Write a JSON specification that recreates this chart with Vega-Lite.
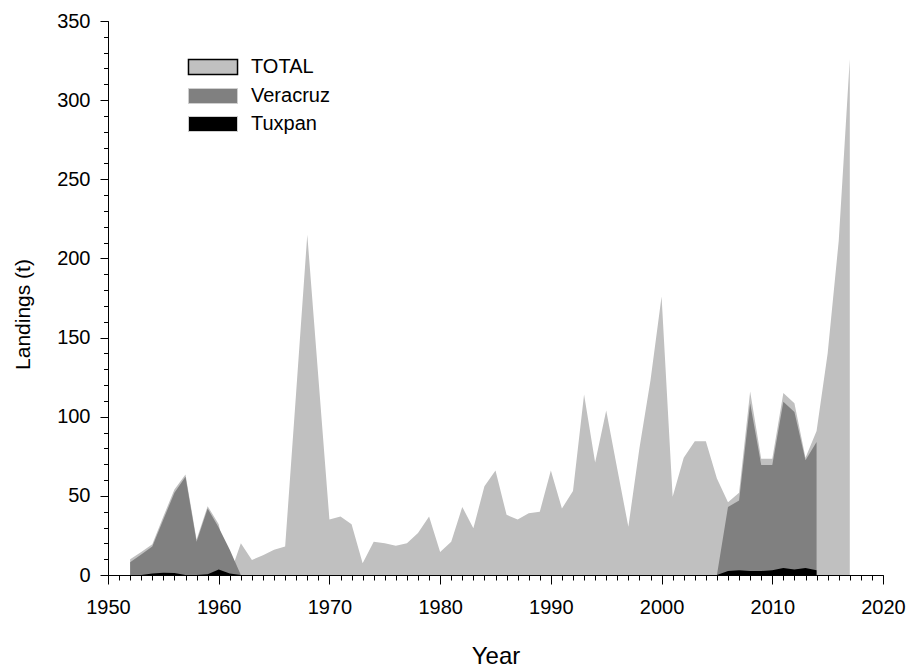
{
  "$schema": "https://vega.github.io/schema/vega-lite/v6.json",
  "width": 775,
  "height": 554,
  "autosize": "none",
  "padding": {"left": 108, "top": 21, "right": 24, "bottom": 94},
  "background": "white",
  "config": {"view": {"stroke": null}, "font": "Liberation Sans"},
  "datasets": {
    "total": [
      {"year": 1952, "series": "TOTAL", "value": 10},
      {"year": 1953, "series": "TOTAL", "value": 14.5},
      {"year": 1954, "series": "TOTAL", "value": 19.5},
      {"year": 1955, "series": "TOTAL", "value": 37},
      {"year": 1956, "series": "TOTAL", "value": 54},
      {"year": 1957, "series": "TOTAL", "value": 63.5},
      {"year": 1958, "series": "TOTAL", "value": 22.5},
      {"year": 1959, "series": "TOTAL", "value": 43.5},
      {"year": 1960, "series": "TOTAL", "value": 32},
      {"year": 1961, "series": "TOTAL", "value": 0},
      {"year": 1962, "series": "TOTAL", "value": 20},
      {"year": 1963, "series": "TOTAL", "value": 9.5},
      {"year": 1964, "series": "TOTAL", "value": 12.5},
      {"year": 1965, "series": "TOTAL", "value": 16},
      {"year": 1966, "series": "TOTAL", "value": 18},
      {"year": 1967, "series": "TOTAL", "value": 116},
      {"year": 1968, "series": "TOTAL", "value": 215},
      {"year": 1969, "series": "TOTAL", "value": 125},
      {"year": 1970, "series": "TOTAL", "value": 35},
      {"year": 1971, "series": "TOTAL", "value": 37},
      {"year": 1972, "series": "TOTAL", "value": 32},
      {"year": 1973, "series": "TOTAL", "value": 7.5},
      {"year": 1974, "series": "TOTAL", "value": 21},
      {"year": 1975, "series": "TOTAL", "value": 20},
      {"year": 1976, "series": "TOTAL", "value": 18.5},
      {"year": 1977, "series": "TOTAL", "value": 20},
      {"year": 1978, "series": "TOTAL", "value": 26.5},
      {"year": 1979, "series": "TOTAL", "value": 37},
      {"year": 1980, "series": "TOTAL", "value": 14.5},
      {"year": 1981, "series": "TOTAL", "value": 21},
      {"year": 1982, "series": "TOTAL", "value": 43},
      {"year": 1983, "series": "TOTAL", "value": 29.5},
      {"year": 1984, "series": "TOTAL", "value": 56},
      {"year": 1985, "series": "TOTAL", "value": 66},
      {"year": 1986, "series": "TOTAL", "value": 38},
      {"year": 1987, "series": "TOTAL", "value": 35},
      {"year": 1988, "series": "TOTAL", "value": 39},
      {"year": 1989, "series": "TOTAL", "value": 40},
      {"year": 1990, "series": "TOTAL", "value": 66},
      {"year": 1991, "series": "TOTAL", "value": 42},
      {"year": 1992, "series": "TOTAL", "value": 53},
      {"year": 1993, "series": "TOTAL", "value": 114},
      {"year": 1994, "series": "TOTAL", "value": 71},
      {"year": 1995, "series": "TOTAL", "value": 104},
      {"year": 1996, "series": "TOTAL", "value": 67},
      {"year": 1997, "series": "TOTAL", "value": 30.5},
      {"year": 1998, "series": "TOTAL", "value": 80},
      {"year": 1999, "series": "TOTAL", "value": 123},
      {"year": 2000, "series": "TOTAL", "value": 176},
      {"year": 2001, "series": "TOTAL", "value": 49.5},
      {"year": 2002, "series": "TOTAL", "value": 74},
      {"year": 2003, "series": "TOTAL", "value": 84.5},
      {"year": 2004, "series": "TOTAL", "value": 84.5},
      {"year": 2005, "series": "TOTAL", "value": 61},
      {"year": 2006, "series": "TOTAL", "value": 46},
      {"year": 2007, "series": "TOTAL", "value": 52},
      {"year": 2008, "series": "TOTAL", "value": 116},
      {"year": 2009, "series": "TOTAL", "value": 73.5},
      {"year": 2010, "series": "TOTAL", "value": 73.5},
      {"year": 2011, "series": "TOTAL", "value": 115},
      {"year": 2012, "series": "TOTAL", "value": 108.5},
      {"year": 2013, "series": "TOTAL", "value": 74},
      {"year": 2014, "series": "TOTAL", "value": 91},
      {"year": 2015, "series": "TOTAL", "value": 140},
      {"year": 2016, "series": "TOTAL", "value": 211},
      {"year": 2017, "series": "TOTAL", "value": 326}
    ],
    "veracruz": [
      {"year": 1952, "series": "Veracruz", "value": 8},
      {"year": 1953, "series": "Veracruz", "value": 13},
      {"year": 1954, "series": "Veracruz", "value": 18},
      {"year": 1955, "series": "Veracruz", "value": 35},
      {"year": 1956, "series": "Veracruz", "value": 52},
      {"year": 1957, "series": "Veracruz", "value": 62},
      {"year": 1958, "series": "Veracruz", "value": 21},
      {"year": 1959, "series": "Veracruz", "value": 42},
      {"year": 1960, "series": "Veracruz", "value": 30},
      {"year": 1961, "series": "Veracruz", "value": 16},
      {"year": 1962, "series": "Veracruz", "value": 0},
      {"year": 2005, "series": "Veracruz", "value": 0},
      {"year": 2006, "series": "Veracruz", "value": 43},
      {"year": 2007, "series": "Veracruz", "value": 47},
      {"year": 2008, "series": "Veracruz", "value": 108.5},
      {"year": 2009, "series": "Veracruz", "value": 69.5},
      {"year": 2010, "series": "Veracruz", "value": 69.5},
      {"year": 2011, "series": "Veracruz", "value": 109.5},
      {"year": 2012, "series": "Veracruz", "value": 103},
      {"year": 2013, "series": "Veracruz", "value": 72.5},
      {"year": 2014, "series": "Veracruz", "value": 84}
    ],
    "tuxpan": [
      {"year": 1953, "series": "Tuxpan", "value": 0},
      {"year": 1954, "series": "Tuxpan", "value": 1},
      {"year": 1955, "series": "Tuxpan", "value": 1.5},
      {"year": 1956, "series": "Tuxpan", "value": 1.2},
      {"year": 1957, "series": "Tuxpan", "value": 0},
      {"year": 1958, "series": "Tuxpan", "value": 0},
      {"year": 1959, "series": "Tuxpan", "value": 0.5},
      {"year": 1960, "series": "Tuxpan", "value": 3.5},
      {"year": 1961, "series": "Tuxpan", "value": 1},
      {"year": 1962, "series": "Tuxpan", "value": 0},
      {"year": 2005, "series": "Tuxpan", "value": 0},
      {"year": 2006, "series": "Tuxpan", "value": 2.5},
      {"year": 2007, "series": "Tuxpan", "value": 3},
      {"year": 2008, "series": "Tuxpan", "value": 2.5},
      {"year": 2009, "series": "Tuxpan", "value": 2.5},
      {"year": 2010, "series": "Tuxpan", "value": 3},
      {"year": 2011, "series": "Tuxpan", "value": 4.5},
      {"year": 2012, "series": "Tuxpan", "value": 3.5},
      {"year": 2013, "series": "Tuxpan", "value": 4.5},
      {"year": 2014, "series": "Tuxpan", "value": 3}
    ]
  },
  "resolve": {"axis": {"x": "independent", "y": "independent"}},
  "layer": [
    {
      "data": {"name": "total"},
      "mark": {"type": "area", "opacity": 1},
      "encoding": {
        "x": {
          "field": "year", "type": "quantitative",
          "scale": {"domain": [1950, 2020], "nice": false, "zero": false},
          "axis": {
            "orient": "bottom", "values": [1950, 1960, 1970, 1980, 1990, 2000, 2010, 2020],
            "format": "d", "tickSize": 9, "tickColor": "black", "tickWidth": 1,
            "domainColor": "black", "domainWidth": 1, "grid": false,
            "labelFont": "Liberation Sans", "labelFontSize": 20, "labelColor": "black",
            "labelPadding": 13, "labelFlush": false, "labelOverlap": false,
            "title": "Year", "titleFont": "Liberation Sans", "titleFontSize": 24,
            "titleFontWeight": "normal", "titleColor": "black", "titlePadding": 27, "zindex": 1
          }
        },
        "y": {
          "field": "value", "type": "quantitative", "stack": null,
          "scale": {"domain": [0, 350], "nice": false},
          "axis": {
            "orient": "left", "values": [0, 50, 100, 150, 200, 250, 300, 350],
            "tickSize": 8, "tickColor": "black", "tickWidth": 1,
            "domainColor": "black", "domainWidth": 1, "grid": false,
            "labelFont": "Liberation Sans", "labelFontSize": 20, "labelColor": "black",
            "labelPadding": 10, "labelFlush": false, "labelOverlap": false,
            "title": "Landings (t)", "titleFont": "Liberation Sans", "titleFontSize": 21,
            "titleFontWeight": "normal", "titleColor": "black", "titlePadding": 23,
            "titleY": 293, "zindex": 1
          }
        },
        "color": {
          "field": "series", "type": "nominal",
          "scale": {"domain": ["TOTAL", "Veracruz", "Tuxpan"], "range": ["#c0c0c0", "#808080", "#000000"]},
          "legend": {
            "orient": "none", "legendX": 95, "legendY": 36, "title": null,
            "symbolType": "M-3.27,-1H3.27V1H-3.27Z", "symbolSize": 225,
            "symbolStrokeWidth": 1, "symbolOpacity": 1,
            "labelFont": "Liberation Sans", "labelFontSize": 20, "labelColor": "black",
            "labelOffset": 28, "rowPadding": 8,
            "encode": {
              "symbols": {
                "update": {
                  "stroke": {"signal": "datum.value === 'TOTAL' ? '#000000' : '#cfcfcf'"},
                  "strokeWidth": {"signal": "datum.value === 'TOTAL' ? 1.5 : 1"}
                }
              }
            }
          }
        }
      }
    },
    {
      "data": {"name": "veracruz"},
      "mark": {"type": "area", "opacity": 1},
      "encoding": {
        "x": {
          "field": "year", "type": "quantitative",
          "axis": {
            "orient": "bottom",
            "values": [1950,1951,1952,1953,1954,1955,1956,1957,1958,1959,1960,1961,1962,1963,1964,1965,1966,1967,1968,1969,1970,1971,1972,1973,1974,1975,1976,1977,1978,1979,1980,1981,1982,1983,1984,1985,1986,1987,1988,1989,1990,1991,1992,1993,1994,1995,1996,1997,1998,1999,2000,2001,2002,2003,2004,2005,2006,2007,2008,2009,2010,2011,2012,2013,2014,2015,2016,2017,2018,2019,2020],
            "tickSize": 5, "tickColor": "black", "domain": false, "labels": false,
            "grid": false, "title": null, "zindex": 1
          }
        },
        "y": {
          "field": "value", "type": "quantitative", "stack": null,
          "axis": {
            "orient": "left",
            "values": [0,10,20,30,40,50,60,70,80,90,100,110,120,130,140,150,160,170,180,190,200,210,220,230,240,250,260,270,280,290,300,310,320,330,340,350],
            "tickSize": 4.5, "tickColor": "black", "domain": false, "labels": false,
            "grid": false, "title": null, "zindex": 1
          }
        },
        "color": {"field": "series", "type": "nominal"}
      }
    },
    {
      "data": {"name": "tuxpan"},
      "mark": {"type": "area", "opacity": 1},
      "encoding": {
        "x": {"field": "year", "type": "quantitative", "axis": null},
        "y": {"field": "value", "type": "quantitative", "stack": null, "axis": null},
        "color": {"field": "series", "type": "nominal"}
      }
    }
  ]
}
